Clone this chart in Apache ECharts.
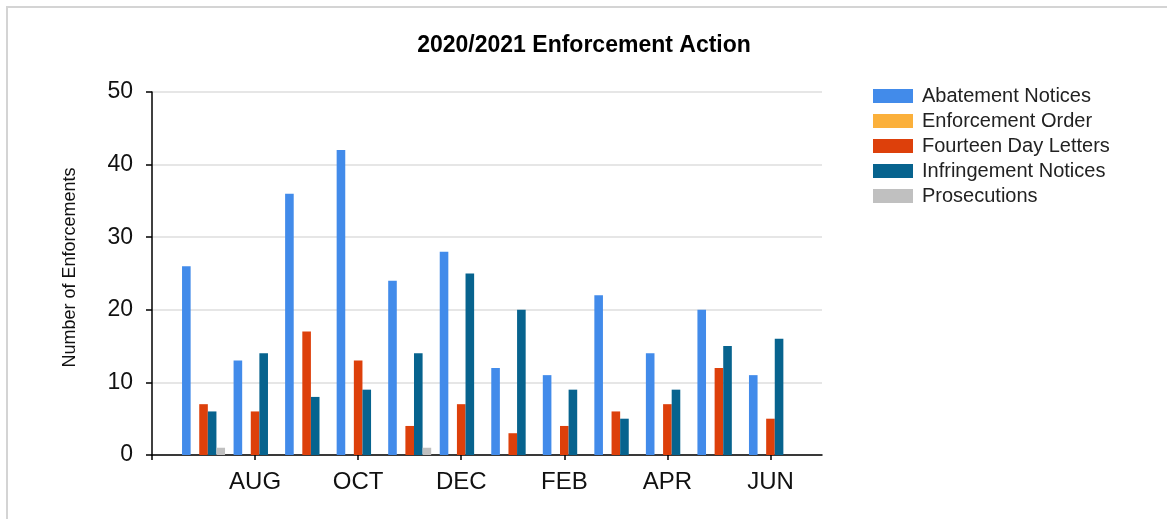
<!DOCTYPE html>
<html>
<head>
<meta charset="utf-8">
<script src="https://cdn.jsdelivr.net/npm/echarts@6/dist/echarts.min.js"></script>
<style>
  html, body { margin: 0; padding: 0; background: #fff; }
  #frame { position: absolute; left: 6px; top: 6px; right: 0; bottom: 0;
           border-top: 2px solid #d4d4d4; border-left: 2px solid #d4d4d4; }
  #chart { position: absolute; left: 0; top: 0; width: 1167px; height: 519px; }
</style>
</head>
<body>
<div id="frame"></div>
<div id="chart"></div>
<script>
// months on the axis: one empty slot before JUL and one after JUN
var months = ["", "JUL", "AUG", "SEP", "OCT", "NOV", "DEC", "JAN", "FEB", "MAR", "APR", "MAY", "JUN", ""];
var abatement   = [null, 26, 13, 36, 42, 24, 28, 12, 11, 22, 14, 20, 11, null];
var enforcement = [null, 0, 0, 0, 0, 0, 0, 0, 0, 0, 0, 0, 0, null];
var fourteenDay = [null, 7, 6, 17, 13, 4, 7, 3, 4, 6, 7, 12, 5, null];
var infringe    = [null, 6, 14, 8, 9, 14, 25, 20, 9, 5, 9, 15, 16, null];
var prosecution = [null, 1, 0, 0, 0, 1, 0, 0, 0, 0, 0, 0, 0, null];

var font = "Liberation Sans, Arial, sans-serif";

function bar(name, data, color) {
  return {
    name: name,
    type: "bar",
    data: data,
    barWidth: 8.6,
    barGap: "0%",
    itemStyle: { color: color },
    animation: false
  };
}

var chart = echarts.init(document.getElementById("chart"));
chart.setOption({
  backgroundColor: "transparent",
  textStyle: { fontFamily: font },
  title: {
    text: "2020/2021 Enforcement Action",
    left: 579,
    textAlign: "center",
    top: 29,
    textStyle: { fontSize: 23, fontWeight: "bold", color: "#000", fontFamily: font }
  },
  legend: {
    orient: "vertical",
    left: 868,
    top: 81,
    itemWidth: 40,
    itemHeight: 14,
    itemGap: 5,
    icon: "rect",
    textStyle: { fontSize: 20, color: "#222", padding: [0, 0, 0, 4] },
    data: ["Abatement Notices", "Enforcement Order", "Fourteen Day Letters", "Infringement Notices", "Prosecutions"]
  },
  grid: { left: 152, right: 345, top: 92, bottom: 64 },
  xAxis: {
    type: "category",
    data: months,
    boundaryGap: false,
    axisLine: { lineStyle: { color: "#000", width: 1.5 } },
    axisTick: { interval: 1, length: 5, lineStyle: { color: "#000", width: 1.5 } },
    axisLabel: { interval: 1, fontSize: 24, color: "#111", margin: 15 },
    splitLine: { show: false }
  },
  yAxis: {
    type: "value",
    min: 0,
    max: 50,
    interval: 10,
    name: "Number of Enforcements",
    nameLocation: "middle",
    nameGap: 73,
    nameTextStyle: { fontSize: 18, color: "#111", padding: [0, 0, 0, 12] },
    axisLine: { show: true, lineStyle: { color: "#000", width: 1.5 } },
    axisTick: { show: true, inside: false, length: 6, lineStyle: { color: "#000", width: 1.5 } },
    axisLabel: { fontSize: 23, color: "#111", margin: 19 },
    splitLine: { lineStyle: { color: "#dedede", width: 1.5 } }
  },
  series: [
    bar("Abatement Notices", abatement, "#428BEA"),
    bar("Enforcement Order", enforcement, "#FBB03B"),
    bar("Fourteen Day Letters", fourteenDay, "#DD400B"),
    bar("Infringement Notices", infringe, "#07638E"),
    bar("Prosecutions", prosecution, "#C0C0C0")
  ]
});
</script>
</body>
</html>
